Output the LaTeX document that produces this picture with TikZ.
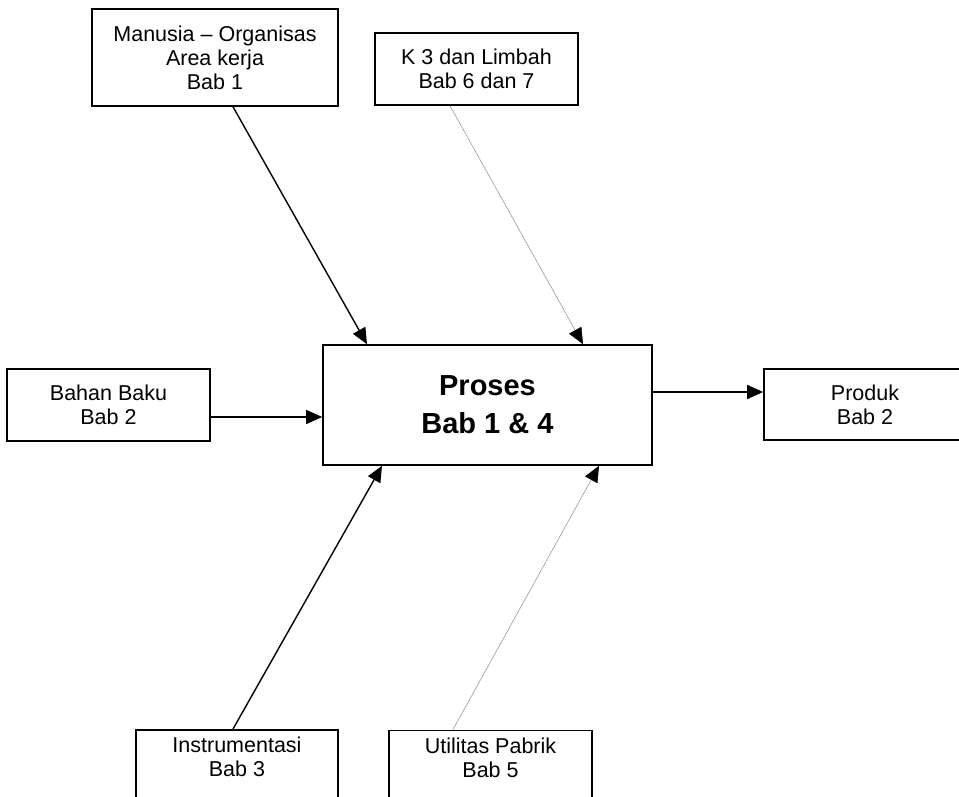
\documentclass[tikz,border=0pt]{standalone}
\usepackage{fontspec}
\setmainfont{Liberation Sans}
\usepackage{tikz}
\usetikzlibrary{arrows, arrows.meta, positioning}
\tikzset{every node/.style={font=\fontsize{21.5}{24}\selectfont}}

\begin{document}
\begin{tikzpicture}[x=1pt, y=-1pt, every node/.style={font=\fontsize{21.5}{24}\selectfont}]
    % Define styles
    \tikzstyle{chapter} = [rectangle, minimum width=203pt, minimum height=72pt, align=center, draw=black, line width=1.6pt]
    \tikzstyle{process} = [rectangle, minimum width=329pt, minimum height=120pt, align=center, draw=black, line width=1.6pt, font=\fontsize{29}{38}\selectfont\bfseries]
    \tikzstyle{cutoff} = [chapter, anchor=north, inner ysep=0pt, text height=47pt, text depth=80pt]
    \tikzstyle{feed} = [line width=1.4pt, -{Triangle[length=16pt, width=14pt]}]
    \tikzstyle{faint} = [line width=0.5pt, black!45, -{Triangle[length=16pt, width=14pt, color=black]}]

    % Page frame
    \useasboundingbox (0, 0) rectangle (959, 797);
    \clip (0, 0) rectangle (959, 797);

    % Central process
    \node (proses) [process] at (487.5, 405) {Proses\\Bab 1 \& 4};

    % Inputs from above
    \node (manusia) [chapter, minimum width=246pt, minimum height=97pt] at (215, 57.5) {Manusia – Organisas\\Area kerja\\Bab 1};
    \node (limbah) [chapter] at (476.5, 69) {K 3 dan Limbah\\Bab 6 dan 7};

    % Raw material and product
    \node (bahan) [chapter] at (108.5, 405) {Bahan Baku\\Bab 2};
    \node (produk) [chapter, minimum width=202pt, minimum height=71pt] at (865, 404.5) {Produk\\Bab 2};

    % Supports from below
    \node (instrumen) [cutoff, minimum width=202pt] at (237, 729) {Instrumentasi\\Bab 3};
    \node (utilitas) [cutoff] at (490.5, 729.5) {Utilitas Pabrik\\Bab 5};

    % Arrows into the process
    \draw [feed] ([xshift=18pt]manusia.south) -- ([xshift=-120.5pt]proses.north);
    \draw [faint] ([xshift=-26.5pt]limbah.south) -- ([xshift=95.5pt]proses.north);
    \draw [feed] ([yshift=-12pt]bahan.east) -- ([yshift=-12pt]proses.west);
    \draw [feed] ([xshift=-4pt]instrumen.north) -- ([xshift=-105.5pt]proses.south);
    \draw [faint] ([xshift=-37.5pt]utilitas.north) -- ([xshift=111.5pt]proses.south);

    % Output
    \draw [feed] ([yshift=13pt]proses.east) -- ([yshift=12.5pt]produk.west);
\end{tikzpicture}
\end{document}
